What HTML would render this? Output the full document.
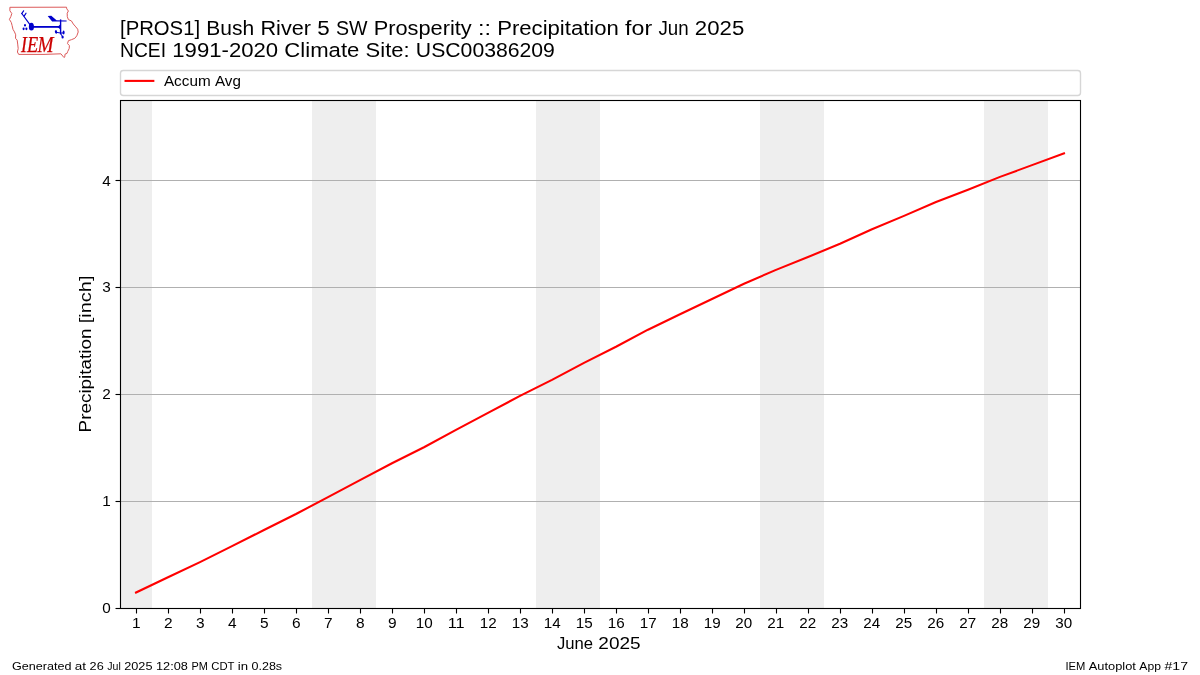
<!DOCTYPE html>
<html lang="en"><head><meta charset="utf-8"><title>PROS1 Precipitation for Jun 2025</title>
<style>
html,body{margin:0;padding:0;background:#ffffff;}
body{width:1200px;height:675px;overflow:hidden;}
svg{display:block;position:absolute;left:0;top:0;will-change:transform;}
text{font-family:"Liberation Sans",sans-serif;fill:#000000;}
.logo text{font-family:"Liberation Serif",serif;font-style:italic;fill:#cc0000;}
</style></head><body>
<svg width="1200" height="675" viewBox="0 0 1200 675">
<rect x="0" y="0" width="1200" height="675" fill="#ffffff"/>
<g id="logo" class="logo">
<path d="M9.9,7.3 L66.5,7.2 L66.8,8.9 L68.4,11 L67.2,13.2 L67.3,16.7 L68.4,19.6 L71.4,20.9 L73.3,24 L75.8,26.9 L77.7,29.2 L78.2,32 L76.8,35.8 L74.8,38.3 L71.4,39.7 L68.4,40.7 L67.5,43.6 L69.4,45.6 L69.2,48.5 L67.7,51.5 L67,53.4 L65,54.2 L64.8,56.9 L64,57.6 L60.9,53.8 L44,54.4 L18.7,54.4 L17.4,52 L18.2,48.5 L17.7,44.1 L17.2,40.2 L15.5,38.3 L15.7,34.8 L14.5,31.9 L13,29.4 L12.1,25.5 L11.3,22.5 L9.4,19.4 L10.8,16.7 L11.8,13.5 L9.9,10.8 Z" fill="none" stroke="#dc5a5a" stroke-width="1" stroke-linejoin="round"/>
<g stroke="#0000cc" fill="#0000cc" stroke-linecap="round">
<line x1="31.4" y1="26.7" x2="21.8" y2="13.5" stroke-width="1.2"/>
<line x1="21.8" y1="13.5" x2="23.6" y2="10.8" stroke-width="1.2"/>
<line x1="24.3" y1="15.9" x2="26" y2="13.2" stroke-width="1.2"/>
<ellipse cx="31.4" cy="26.7" rx="2.55" ry="3.85" stroke="none"/>
<ellipse cx="25" cy="25.2" rx="1" ry="1.2" stroke="none"/>
<ellipse cx="23.6" cy="28.8" rx="1.05" ry="1.35" stroke="none"/>
<ellipse cx="26.4" cy="28.8" rx="1.05" ry="1.35" stroke="none"/>
<line x1="31.4" y1="26.9" x2="60" y2="26.9" stroke-width="1.8" stroke-linecap="butt"/>
<path d="M57.5,26.9 L60.2,24.6 L60.2,29.2 Z" stroke="none"/>
<path d="M47.7,15.9 L51.3,15.7 L56.5,20.2 L66.6,20.5 L66.6,21.5 L52.1,21.5 Z" stroke="none"/>
<line x1="60.6" y1="19.4" x2="60.6" y2="34.4" stroke-width="1.4" stroke-linecap="butt"/>
<path d="M56,32.3 L60.6,33 L63.6,33" fill="none" stroke-width="1"/>
<line x1="60.6" y1="33.4" x2="62.6" y2="37" stroke-width="1"/>
<ellipse cx="56" cy="31.9" rx="1.1" ry="1.8" stroke="none" transform="rotate(-15 56 31.9)"/>
<ellipse cx="63.6" cy="32.6" rx="1" ry="2" stroke="none"/>
<ellipse cx="62.6" cy="37" rx="1.1" ry="1.6" stroke="none"/>
</g>
<text y="51.6" font-size="22.6" stroke="#cc0000" stroke-width="0.25"><tspan x="20.9" textLength="5.9" lengthAdjust="spacingAndGlyphs">I</tspan><tspan x="27.0" textLength="11.2" lengthAdjust="spacingAndGlyphs">E</tspan><tspan x="37.5" textLength="16.0" lengthAdjust="spacingAndGlyphs">M</tspan></text>
</g>

<g id="title">
<text y="34.90" font-size="20.10"><tspan x="120.00" textLength="80.07" lengthAdjust="spacingAndGlyphs">[PROS1]</tspan> <tspan x="206.31" textLength="47.89" lengthAdjust="spacingAndGlyphs">Bush</tspan> <tspan x="260.44" textLength="50.51" lengthAdjust="spacingAndGlyphs">River</tspan> <tspan x="317.19" textLength="12.47" lengthAdjust="spacingAndGlyphs">5</tspan> <tspan x="335.90" textLength="31.55" lengthAdjust="spacingAndGlyphs">SW</tspan> <tspan x="373.69" textLength="98.03" lengthAdjust="spacingAndGlyphs">Prosperity</tspan> <tspan x="477.96" textLength="12.97" lengthAdjust="spacingAndGlyphs">::</tspan> <tspan x="497.17" textLength="121.73" lengthAdjust="spacingAndGlyphs">Precipitation</tspan> <tspan x="625.14" textLength="27.06" lengthAdjust="spacingAndGlyphs">for</tspan> <tspan x="658.43" textLength="30.18" lengthAdjust="spacingAndGlyphs">Jun</tspan> <tspan x="694.85" textLength="49.39" lengthAdjust="spacingAndGlyphs">2025</tspan></text>
<text y="56.70" font-size="20.10"><tspan x="120.00" textLength="46.00" lengthAdjust="spacingAndGlyphs">NCEI</tspan> <tspan x="172.25" textLength="105.88" lengthAdjust="spacingAndGlyphs">1991-2020</tspan> <tspan x="284.38" textLength="75.00" lengthAdjust="spacingAndGlyphs">Climate</tspan> <tspan x="365.62" textLength="44.00" lengthAdjust="spacingAndGlyphs">Site:</tspan> <tspan x="415.88" textLength="139.00" lengthAdjust="spacingAndGlyphs">USC00386209</tspan></text>
</g>
<g id="legend">
<rect x="120.5" y="70.5" width="960" height="25" rx="2.8" ry="2.8" fill="#ffffff" stroke="#d6d6d6" stroke-width="1.39"/>
<line x1="125.56" y1="80.9" x2="153.33" y2="80.9" stroke="#ff0000" stroke-width="2.08" stroke-linecap="square"/>
<text y="85.90" font-size="14.30"><tspan x="163.90" textLength="46.75" lengthAdjust="spacingAndGlyphs">Accum</tspan> <tspan x="215.02" textLength="25.88" lengthAdjust="spacingAndGlyphs">Avg</tspan></text>
</g>
<g id="weekends" fill="#eeeeee" shape-rendering="crispEdges">
<rect x="120" y="100" width="32" height="508"/>
<rect x="312" y="100" width="64" height="508"/>
<rect x="536" y="100" width="64" height="508"/>
<rect x="760" y="100" width="64" height="508"/>
<rect x="984" y="100" width="64" height="508"/>
</g>
<g id="grid" fill="#b0b0b0" shape-rendering="crispEdges">
<rect x="120" y="180" width="961" height="1"/>
<rect x="120" y="287" width="961" height="1"/>
<rect x="120" y="394" width="961" height="1"/>
<rect x="120" y="501" width="961" height="1"/>
</g>
<polyline id="accum" fill="none" stroke="#ff0000" stroke-width="2.08" stroke-linejoin="round" stroke-linecap="square" points="136,592.54 168,577.31 200,562.09 232,546.06 264,530.03 296,514.01 328,497.09 360,480.17 392,463.25 424,447.23 456,429.92 488,412.82 520,395.94 552,379.91 584,362.81 616,346.79 648,329.69 680,314.20 712,298.97 744,283.74 776,269.85 808,257.03 840,243.78 872,229.25 904,215.89 936,202.00 968,189.72 1000,176.89 1032,165.14 1064,153.39"/>
<g id="ticks" stroke="#000000" stroke-width="1.11">
<line x1="136.5" y1="608.5" x2="136.5" y2="613.5"/>
<line x1="168.5" y1="608.5" x2="168.5" y2="613.5"/>
<line x1="200.5" y1="608.5" x2="200.5" y2="613.5"/>
<line x1="232.5" y1="608.5" x2="232.5" y2="613.5"/>
<line x1="264.5" y1="608.5" x2="264.5" y2="613.5"/>
<line x1="296.5" y1="608.5" x2="296.5" y2="613.5"/>
<line x1="328.5" y1="608.5" x2="328.5" y2="613.5"/>
<line x1="360.5" y1="608.5" x2="360.5" y2="613.5"/>
<line x1="392.5" y1="608.5" x2="392.5" y2="613.5"/>
<line x1="424.5" y1="608.5" x2="424.5" y2="613.5"/>
<line x1="456.5" y1="608.5" x2="456.5" y2="613.5"/>
<line x1="488.5" y1="608.5" x2="488.5" y2="613.5"/>
<line x1="520.5" y1="608.5" x2="520.5" y2="613.5"/>
<line x1="552.5" y1="608.5" x2="552.5" y2="613.5"/>
<line x1="584.5" y1="608.5" x2="584.5" y2="613.5"/>
<line x1="616.5" y1="608.5" x2="616.5" y2="613.5"/>
<line x1="648.5" y1="608.5" x2="648.5" y2="613.5"/>
<line x1="680.5" y1="608.5" x2="680.5" y2="613.5"/>
<line x1="712.5" y1="608.5" x2="712.5" y2="613.5"/>
<line x1="744.5" y1="608.5" x2="744.5" y2="613.5"/>
<line x1="776.5" y1="608.5" x2="776.5" y2="613.5"/>
<line x1="808.5" y1="608.5" x2="808.5" y2="613.5"/>
<line x1="840.5" y1="608.5" x2="840.5" y2="613.5"/>
<line x1="872.5" y1="608.5" x2="872.5" y2="613.5"/>
<line x1="904.5" y1="608.5" x2="904.5" y2="613.5"/>
<line x1="936.5" y1="608.5" x2="936.5" y2="613.5"/>
<line x1="968.5" y1="608.5" x2="968.5" y2="613.5"/>
<line x1="1000.5" y1="608.5" x2="1000.5" y2="613.5"/>
<line x1="1032.5" y1="608.5" x2="1032.5" y2="613.5"/>
<line x1="1064.5" y1="608.5" x2="1064.5" y2="613.5"/>
<line x1="115.5" y1="180.5" x2="120.5" y2="180.5"/>
<line x1="115.5" y1="287.5" x2="120.5" y2="287.5"/>
<line x1="115.5" y1="394.5" x2="120.5" y2="394.5"/>
<line x1="115.5" y1="501.5" x2="120.5" y2="501.5"/>
<line x1="115.5" y1="608.5" x2="120.5" y2="608.5"/>
</g>
<rect id="spines" x="120.5" y="100.5" width="960" height="508" fill="none" stroke="#000000" stroke-width="1.11"/>
<g id="xticklabels" font-size="14.2" text-anchor="middle">
<text x="136.2" y="628.0" textLength="8.60" lengthAdjust="spacingAndGlyphs">1</text>
<text x="168.2" y="628.0" textLength="8.60" lengthAdjust="spacingAndGlyphs">2</text>
<text x="200.2" y="628.0" textLength="8.60" lengthAdjust="spacingAndGlyphs">3</text>
<text x="232.2" y="628.0" textLength="8.60" lengthAdjust="spacingAndGlyphs">4</text>
<text x="264.2" y="628.0" textLength="8.60" lengthAdjust="spacingAndGlyphs">5</text>
<text x="296.2" y="628.0" textLength="8.60" lengthAdjust="spacingAndGlyphs">6</text>
<text x="328.2" y="628.0" textLength="8.60" lengthAdjust="spacingAndGlyphs">7</text>
<text x="360.2" y="628.0" textLength="8.60" lengthAdjust="spacingAndGlyphs">8</text>
<text x="392.2" y="628.0" textLength="8.60" lengthAdjust="spacingAndGlyphs">9</text>
<text x="424.2" y="628.0" textLength="16.90" lengthAdjust="spacingAndGlyphs">10</text>
<text x="456.2" y="628.0" textLength="16.90" lengthAdjust="spacingAndGlyphs">11</text>
<text x="488.2" y="628.0" textLength="16.90" lengthAdjust="spacingAndGlyphs">12</text>
<text x="520.2" y="628.0" textLength="16.90" lengthAdjust="spacingAndGlyphs">13</text>
<text x="552.2" y="628.0" textLength="16.90" lengthAdjust="spacingAndGlyphs">14</text>
<text x="584.2" y="628.0" textLength="16.90" lengthAdjust="spacingAndGlyphs">15</text>
<text x="616.2" y="628.0" textLength="16.90" lengthAdjust="spacingAndGlyphs">16</text>
<text x="648.2" y="628.0" textLength="16.90" lengthAdjust="spacingAndGlyphs">17</text>
<text x="680.2" y="628.0" textLength="16.90" lengthAdjust="spacingAndGlyphs">18</text>
<text x="712.2" y="628.0" textLength="16.90" lengthAdjust="spacingAndGlyphs">19</text>
<text x="743.8" y="628.0" textLength="16.90" lengthAdjust="spacingAndGlyphs">20</text>
<text x="775.8" y="628.0" textLength="16.90" lengthAdjust="spacingAndGlyphs">21</text>
<text x="807.8" y="628.0" textLength="16.90" lengthAdjust="spacingAndGlyphs">22</text>
<text x="839.8" y="628.0" textLength="16.90" lengthAdjust="spacingAndGlyphs">23</text>
<text x="871.8" y="628.0" textLength="16.90" lengthAdjust="spacingAndGlyphs">24</text>
<text x="903.8" y="628.0" textLength="16.90" lengthAdjust="spacingAndGlyphs">25</text>
<text x="935.8" y="628.0" textLength="16.90" lengthAdjust="spacingAndGlyphs">26</text>
<text x="967.8" y="628.0" textLength="16.90" lengthAdjust="spacingAndGlyphs">27</text>
<text x="999.8" y="628.0" textLength="16.90" lengthAdjust="spacingAndGlyphs">28</text>
<text x="1031.8" y="628.0" textLength="16.90" lengthAdjust="spacingAndGlyphs">29</text>
<text x="1063.8" y="628.0" textLength="16.90" lengthAdjust="spacingAndGlyphs">30</text>
</g>
<g id="yticklabels" font-size="14.2" text-anchor="end">
<text x="110.7" y="613.1" textLength="8.5" lengthAdjust="spacingAndGlyphs">0</text>
<text x="110.7" y="506.1" textLength="8.5" lengthAdjust="spacingAndGlyphs">1</text>
<text x="110.7" y="399.1" textLength="8.5" lengthAdjust="spacingAndGlyphs">2</text>
<text x="110.7" y="292.1" textLength="8.5" lengthAdjust="spacingAndGlyphs">3</text>
<text x="110.7" y="186.1" textLength="8.5" lengthAdjust="spacingAndGlyphs">4</text>
</g>
<text y="648.90" font-size="15.60" id="xlabel"><tspan x="557.00" textLength="36.12" lengthAdjust="spacingAndGlyphs">June</tspan> <tspan x="598.38" textLength="42.25" lengthAdjust="spacingAndGlyphs">2025</tspan></text>
<text y="0.00" font-size="15.60" id="ylabel" transform="translate(91.2,432.4) rotate(-90)"><tspan x="0.00" textLength="103.88" lengthAdjust="spacingAndGlyphs">Precipitation</tspan> <tspan x="109.12" textLength="47.75" lengthAdjust="spacingAndGlyphs">[inch]</tspan></text>
<text y="669.90" font-size="11.50" id="footer-left"><tspan x="12.00" textLength="59.38" lengthAdjust="spacingAndGlyphs">Generated</tspan> <tspan x="74.88" textLength="11.25" lengthAdjust="spacingAndGlyphs">at</tspan> <tspan x="89.62" textLength="14.12" lengthAdjust="spacingAndGlyphs">26</tspan> <tspan x="107.25" textLength="13.50" lengthAdjust="spacingAndGlyphs">Jul</tspan> <tspan x="124.25" textLength="28.25" lengthAdjust="spacingAndGlyphs">2025</tspan> <tspan x="156.00" textLength="31.88" lengthAdjust="spacingAndGlyphs">12:08</tspan> <tspan x="191.38" textLength="16.38" lengthAdjust="spacingAndGlyphs">PM</tspan> <tspan x="211.25" textLength="23.00" lengthAdjust="spacingAndGlyphs">CDT</tspan> <tspan x="237.75" textLength="10.25" lengthAdjust="spacingAndGlyphs">in</tspan> <tspan x="251.50" textLength="30.62" lengthAdjust="spacingAndGlyphs">0.28s</tspan></text>
<text y="669.90" font-size="11.50" id="footer-right"><tspan x="1065.38" textLength="19.88" lengthAdjust="spacingAndGlyphs">IEM</tspan> <tspan x="1088.76" textLength="47.12" lengthAdjust="spacingAndGlyphs">Autoplot</tspan> <tspan x="1139.38" textLength="21.62" lengthAdjust="spacingAndGlyphs">App</tspan> <tspan x="1164.50" textLength="23.50" lengthAdjust="spacingAndGlyphs">#17</tspan></text>
</svg>
</body></html>
